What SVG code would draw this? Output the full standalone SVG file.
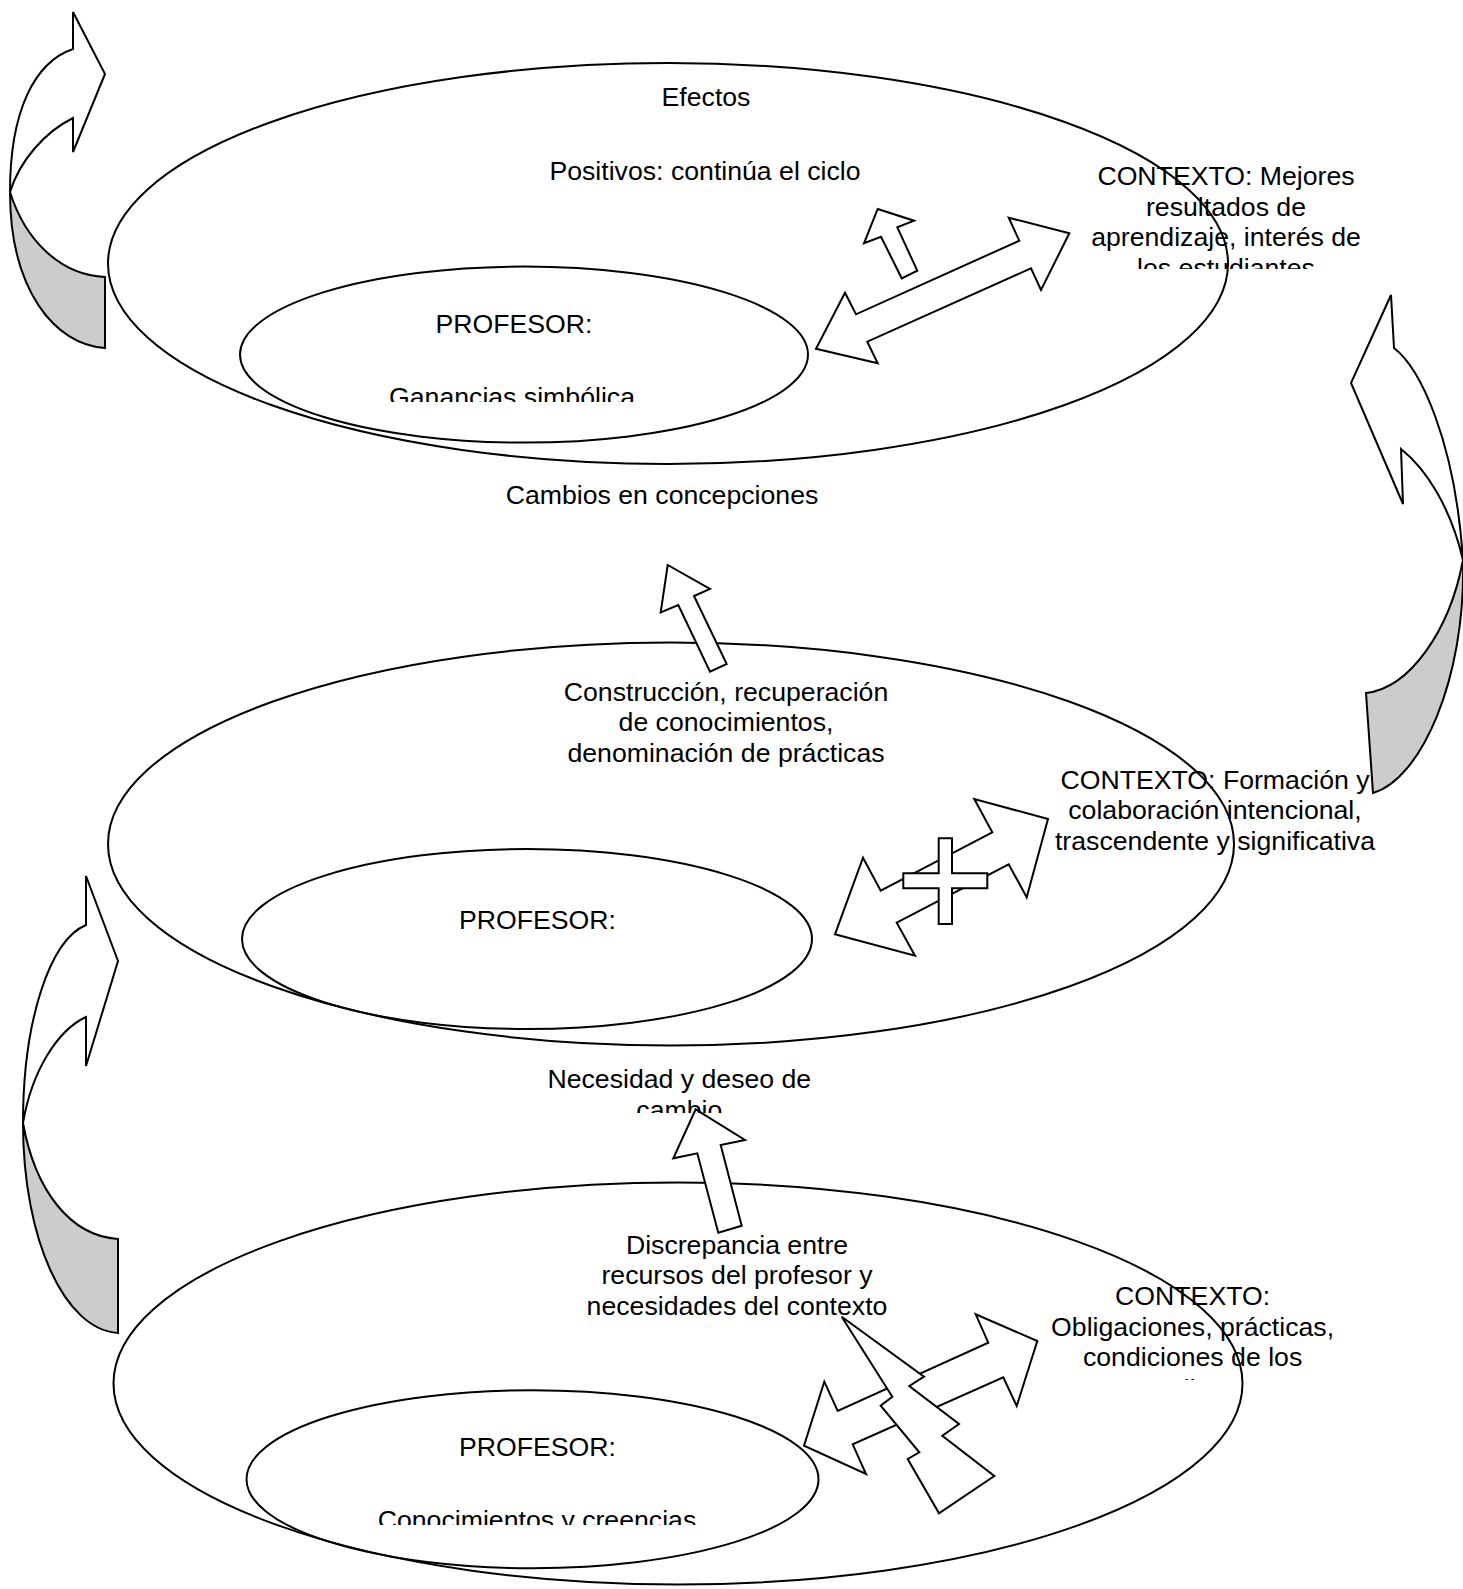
<svg xmlns="http://www.w3.org/2000/svg" width="1463" height="1589" viewBox="0 0 1463 1589">
<style>
.e{fill:none;stroke:#000;stroke-width:2}
.a{fill:#fff;stroke:#000;stroke-width:2;stroke-linejoin:miter}
.g{fill:#cccccc;stroke:#000;stroke-width:2}
.t{font-family:"Liberation Sans",Arial,sans-serif;font-size:26.67px;fill:#000;text-anchor:middle}
</style>
<defs>
<clipPath id="c1"><rect x="1000" y="150" width="400" height="119"/></clipPath>
<clipPath id="c2"><rect x="300" y="370" width="450" height="32"/></clipPath>
<clipPath id="c3"><rect x="500" y="1060" width="360" height="53"/></clipPath>
<clipPath id="c4"><rect x="1000" y="1280" width="400" height="100"/></clipPath>
<clipPath id="c5"><rect x="300" y="1495" width="500" height="30"/></clipPath>
</defs>
<rect width="1463" height="1589" fill="#fff"/>

<g id="node-top">
<ellipse class="e" cx="668" cy="263.5" rx="560" ry="200.5"/>
<ellipse class="e" cx="524" cy="354.6" rx="284" ry="88"/>
</g>
<g id="node-middle">
<ellipse class="e" cx="671" cy="844" rx="563" ry="201.5"/>
<ellipse class="e" cx="527" cy="939" rx="285" ry="90"/>
</g>
<g id="node-bottom">
<ellipse class="e" cx="678" cy="1383.5" rx="564.5" ry="201"/>
<ellipse class="e" cx="532.5" cy="1479.2" rx="286" ry="89"/>
</g>

<g id="connectors">
<!-- top-left curved arrow -->
<path class="a" d="M73,49 L73,12 L105,74 L73,152 L73,118 C45,132 20,160 10,192 C10,110 35,62 73,49 Z"/>
<path class="g" d="M10,192 C10,290 55,345 105,348 L105,277 C60,275 25,240 10,192 Z"/>
<!-- middle-left curved arrow -->
<path class="a" d="M86,925 L86,876 L118,961 L86,1066 L86,1017 C58,1030 32,1070 23,1123 C23,1020 50,940 86,925 Z"/>
<path class="g" d="M23,1123 C23,1240 65,1330 118,1333 L118,1239 C70,1236 35,1190 23,1123 Z"/>
<!-- right curved arrow -->
<path class="a" d="M1394,348 L1391,295 L1351,383 L1403,504 L1401,449 C1425,468 1450,505 1463,560 C1455,440 1420,368 1394,348 Z"/>
<path class="g" d="M1463,560 C1466,680 1420,780 1373,793 L1366,693 C1410,688 1450,630 1463,560 Z"/>
<!-- top small up arrow -->
<path class="a" d="M877.7,209 L914,220.7 L897.3,227.3 L917.3,270.7 L901.7,278.3 L881,236.7 L864,243.3 Z"/>
<!-- top double arrow -->
<path class="a" d="M1069.3,233.3 L1008.7,217.7 L1019.3,240.7 L856,314.3 L845,292.7 L816,348.7 L877.7,363.3 L867.3,341.7 L1031,268.3 L1041,290 Z"/>
<!-- middle up arrow -->
<path class="a" d="M667.7,565 L710,589 L694,596 L726.7,664 L710,671.7 L678.3,605 L660.7,612.3 Z"/>
<!-- middle double arrow -->
<path class="a" d="M1048,819 L974.3,799 L992.3,832.3 L880.7,890.7 L863,857.7 L835,934.3 L915,955.7 L896.7,922.7 L1008.7,864.3 L1026.7,897.3 Z"/>
<path class="a" d="M938.7,838.3 L952,838.3 L952,873.3 L987.3,873.3 L987.3,888.3 L952,888.3 L952,924 L938.7,924 L938.7,888.3 L903.3,888.3 L903.3,873.3 L938.7,873.3 Z"/>
<!-- bottom up arrow -->
<path class="a" d="M695.7,1109.3 L745,1140 L720.7,1145 L741.7,1225.7 L718.3,1232.7 L697.3,1153.3 L673.3,1158.3 Z"/>
<!-- bottom double arrow -->
<path class="a" d="M1037.3,1341 L975.7,1314.3 L988.3,1342.7 L837.7,1411 L824.3,1381.7 L804,1445.7 L866,1474 L852.7,1444.3 L1003.3,1377.3 L1016.7,1406 Z"/>
<!-- lightning bolt -->
<path class="a" d="M841.7,1316.7 L924,1376.7 L909.3,1386 L959,1424 L942.3,1435.7 L994.3,1476 L939,1513.3 L907.7,1459 L919.3,1452.3 L880.7,1405.7 L892.3,1396.7 Z"/>
</g>

<g id="labels-top">
<text class="t" x="706" y="105.5">Efectos</text>
<text class="t" x="705" y="179.5">Positivos: continúa el ciclo</text>
<g clip-path="url(#c1)">
<text class="t" x="1226" y="185">CONTEXTO: Mejores</text>
<text class="t" x="1226" y="215.7">resultados de</text>
<text class="t" x="1226" y="246.3">aprendizaje, interés de</text>
<text class="t" x="1226" y="277">los estudiantes</text>
</g>
<text class="t" x="514" y="332.5">PROFESOR:</text>
<g clip-path="url(#c2)"><text class="t" x="512" y="405.7">Ganancias simbólica</text></g>
<text class="t" x="662" y="504">Cambios en concepciones</text>
</g>

<g id="labels-middle">
<text class="t" x="726" y="700.5">Construcción, recuperación</text>
<text class="t" x="726" y="731">de conocimientos,</text>
<text class="t" x="726" y="761.5">denominación de prácticas</text>
<text class="t" x="1215" y="788.5">CONTEXTO: Formación y</text>
<text class="t" x="1215" y="819.2">colaboración intencional,</text>
<text class="t" x="1215" y="849.9">trascendente y significativa</text>
<text class="t" x="537.5" y="928.5">PROFESOR:</text>
<g clip-path="url(#c3)">
<text class="t" x="679.3" y="1088.3">Necesidad y deseo de</text>
<text class="t" x="679.3" y="1119">cambio</text>
</g>
</g>

<g id="labels-bottom">
<text class="t" x="737" y="1253.7">Discrepancia entre</text>
<text class="t" x="737" y="1284.4">recursos del profesor y</text>
<text class="t" x="737" y="1315">necesidades del contexto</text>
<g clip-path="url(#c4)">
<text class="t" x="1192.6" y="1305">CONTEXTO:</text>
<text class="t" x="1192.6" y="1335.7">Obligaciones, prácticas,</text>
<text class="t" x="1192.6" y="1366.4">condiciones de los</text>
<text class="t" x="1192.6" y="1398">estudiantes</text>
</g>
<text class="t" x="537.5" y="1456.3">PROFESOR:</text>
<g clip-path="url(#c5)"><text class="t" x="537" y="1529">Conocimientos y creencias</text></g>
</g>
</svg>
